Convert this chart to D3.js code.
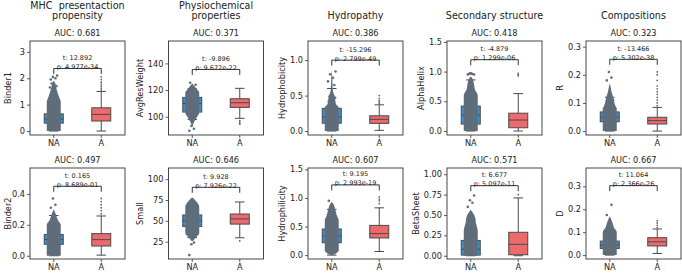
<!DOCTYPE html>
<html>
<head>
<meta charset="utf-8">
<script src="https://cdn.jsdelivr.net/npm/d3@7"></script>
<style>
    body { margin: 0; background: #fff; }
    svg { font-family: "DejaVu Sans", sans-serif; }
    .tick line { stroke: #333; stroke-width: 0.8; }
    .tick text { fill: #222; font-size: 8.2px; }
    .title { white-space: pre; }
</style>
</head>
<body>
<div id="chart"></div>
<script>
// column titles (top row only)
const colTitles = [["MHC  presentaction", "propensity"], ["Physiochemical", "properties"], ["Hydropathy"], ["Secondary structure"], ["Compositions"]];
const classes = ["NA", "A"];
const features = ["Binder1", "AvgResWeight", "Hydrophobicity", "AlphaHelix", "R",
                  "Binder2", "Small", "Hydrophilicity", "BetaSheet", "D"];
const aucValues = [0.681, 0.371, 0.386, 0.418, 0.323, 0.497, 0.646, 0.607, 0.571, 0.667];
const tStats = ["12.892", "-9.896", "-15.296", "-4.879", "-13.466", "0.165", "9.928", "9.195", "6.677", "11.064"];
const pValues = ["4.977e-34", "9.672e-22", "2.799e-49", "1.299e-06", "5.302e-38",
                 "8.689e-01", "7.926e-22", "2.993e-19", "5.097e-11", "2.366e-26"];

// y ranges and ticks
const yDomains = [[-0.15, 3.41], [86.3, 156.8], [-0.056, 1.27], [-0.067, 1.515], [-0.014, 0.32],
                  [-0.021, 0.567], [4.3, 113.3], [-0.068, 1.524], [-0.04, 1.077], [-0.017, 0.38]];
const yTicks = [[0, 1, 2, 3], [100, 120, 140], [0, 0.5, 1], [0, 0.5, 1, 1.5], [0, 0.1, 0.2, 0.3],
                [0, 0.2, 0.4], [25, 50, 75, 100], [0, 0.5, 1, 1.5], [0, 0.25, 0.5, 0.75, 1], [0, 0.1, 0.2, 0.3]];
const yTickLabels = [["0", "1", "2", "3"], ["100", "120", "140"], ["0.0", "0.5", "1.0"], ["0.0", "0.5", "1.0", "1.5"],
                     ["0.0", "0.1", "0.2", "0.3"], ["0.0", "0.2", "0.4"], ["25", "50", "75", "100"],
                     ["0.0", "0.5", "1.0", "1.5"], ["0.00", "0.25", "0.50", "0.75", "1.00"], ["0.0", "0.1", "0.2", "0.3"]];

// box stats: [whisker low, q1, median, q3, whisker high]
const naBoxes = [[0, 0.3, 0.45, 0.65, 1.2], [98, 103.5, 110, 114.5, 121], [0, 0.11, 0.2, 0.32, 0.6],
                 [0, 0.117, 0.27, 0.42, 0.86], [0, 0.033, 0.05, 0.068, 0.12], [0, 0.074, 0.105, 0.137, 0.26],
                 [30, 43.3, 50, 57, 70], [0, 0.217, 0.33, 0.457, 0.8], [0, 0.008, 0.08, 0.188, 0.45],
                 [0, 0.029, 0.044, 0.061, 0.11]];
const aBoxes = [[0, 0.38, 0.63, 0.88, 1.5], [98.8, 107, 110.5, 113.5, 121.3], [0.01, 0.108, 0.165, 0.215, 0.37],
                [0, 0.055, 0.185, 0.3, 0.63], [0, 0.025, 0.037, 0.049, 0.084], [0.004, 0.063, 0.104, 0.143, 0.257],
                [29.7, 46.1, 52.3, 58.2, 72.6], [0.063, 0.3, 0.377, 0.52, 0.827], [0, 0.012, 0.14, 0.288, 0.71],
                [0.007, 0.04, 0.058, 0.076, 0.114]];
// fliers of class A
const aFliers = [[1.55, 1.62, 1.7, 1.78, 1.85, 1.95, 2.05], [97, 96, 95, 94.5], [0.39, 0.41, 0.43, 0.46, 0.5],
                 [0.93, 0.95, 0.97], [0.09, 0.1, 0.11, 0.12, 0.13, 0.14, 0.15, 0.16, 0.18, 0.2, 0.21],
                 [0.27, 0.29, 0.31, 0.33, 0.35, 0.37], [26], [0.9, 0.95, 0.98, 1.02], [0.75], [0.12, 0.13, 0.14, 0.15]];

// outline of the dense NA strip: [value, relative spread]
const naStripShape = [
    [[0, 1], [1.1, 1], [1.3, 0.75], [1.5, 0.5], [1.7, 0.3], [1.85, 0.15], [1.9, 0]],
    [[92, 0], [96, 0.25], [100, 0.7], [103, 1], [118, 1], [121, 0.6], [123, 0.3], [125, 0]],
    [[0, 1], [0.33, 1], [0.38, 0.6], [0.5, 0.4], [0.55, 0.2], [0.62, 0.12], [0.8, 0.05], [0.85, 0]],
    [[0, 1], [0.6, 1], [0.7, 0.6], [0.8, 0.45], [0.88, 0.25], [0.92, 0]],
    [[0, 1], [0.08, 1], [0.09, 0.8], [0.12, 0.5], [0.14, 0.25], [0.16, 0.1], [0.17, 0]],
    [[0, 1], [0.2, 1], [0.23, 0.6], [0.26, 0.35], [0.29, 0.1], [0.3, 0]],
    [[26, 0.1], [30, 0.5], [35, 1], [67, 1], [72, 0.7], [76, 0.3], [78, 0]],
    [[0, 0.2], [0.03, 0.6], [0.08, 1], [0.6, 1], [0.7, 0.7], [0.8, 0.5], [0.9, 0.2], [0.93, 0]],
    [[0, 1], [0.3, 1], [0.4, 0.75], [0.5, 0.5], [0.54, 0.2], [0.56, 0]],
    [[0, 1], [0.1, 1], [0.12, 0.6], [0.14, 0.4], [0.16, 0.15], [0.17, 0]]
];
// scattered NA points outside the dense part
const naStripPoints = [[1.95, 2.0, 2.05, 2.1, 1.8, 1.75, 1.7, 1.65], [89.5, 91, 93, 124, 125.5],
                       [0.42, 0.44, 0.46, 0.47, 0.49, 0.45, 0.65, 0.7, 0.75, 0.8, 0.84],
                       [0.95, 0.96, 0.97, 0.95, 0.96, 0.97], [0.18, 0.19, 0.21, 0.11, 0.12], [0.31, 0.33, 0.37],
                       [9, 24, 22], [0.95], [0.6, 0.65, 0.68, 0.74], [0.175, 0.22]];
// top of the significance bracket
const bracketTop = [2.37, 135.5, 1.0, 1.2, 0.255, 0.449, 90.2, 1.228, 0.86, 0.303];

const W = 682, H = 273;
const panelW = 95;
const panelH = [94, 91];
const colLeft = [30, 168.5, 308, 447, 586];
const rowTop = [41, 168];
const boxColors = {"NA": "#3d8ec8", "A": "#ec696c"};
const lineColor = "#4a4a4a";
const stripColor = "#5f6d7b";
const jitter = [-0.7, 0.4, -0.2, 0.8, -0.5, 0.1, 0.6, -0.9, 0.3, -0.4, 0.9];

const svg = d3.select("#chart").append("svg")
    .attr("width", W)
    .attr("height", H);

features.forEach((feat, i) => {
    const row = Math.floor(i / 5), col = i % 5;
    const h = panelH[row];
    const g = svg.append("g")
        .attr("transform", "translate(" + colLeft[col] + "," + rowTop[row] + ")");

    const x = d3.scaleBand().domain(classes).range([0, panelW]);
    const y = d3.scaleLinear().domain(yDomains[i]).range([h, 0]);
    const cx = c => x(c) + x.bandwidth() / 2;
    const boxW = x.bandwidth() * 0.4;

    // boxes
    [["NA", naBoxes[i]], ["A", aBoxes[i]]].forEach(([c, s]) => {
        const bg = g.append("g");
        bg.append("line")
            .attr("x1", cx(c)).attr("x2", cx(c))
            .attr("y1", y(s[0])).attr("y2", y(s[1]))
            .attr("stroke", lineColor).attr("stroke-width", 1);
        bg.append("line")
            .attr("x1", cx(c)).attr("x2", cx(c))
            .attr("y1", y(s[3])).attr("y2", y(s[4]))
            .attr("stroke", lineColor).attr("stroke-width", 1);
        [s[0], s[4]].forEach(v => {
            bg.append("line")
                .attr("x1", cx(c) - boxW / 4).attr("x2", cx(c) + boxW / 4)
                .attr("y1", y(v)).attr("y2", y(v))
                .attr("stroke", lineColor).attr("stroke-width", 1);
        });
        bg.append("rect")
            .attr("x", cx(c) - boxW / 2)
            .attr("y", y(s[3]))
            .attr("width", boxW)
            .attr("height", y(s[1]) - y(s[3]))
            .attr("fill", boxColors[c])
            .attr("stroke", lineColor)
            .attr("stroke-width", 1);
        bg.append("line")
            .attr("x1", cx(c) - boxW / 2).attr("x2", cx(c) + boxW / 2)
            .attr("y1", y(s[2])).attr("y2", y(s[2]))
            .attr("stroke", lineColor).attr("stroke-width", 1);
    });

    // fliers for A
    g.selectAll(".flier")
        .data(aFliers[i])
        .enter().append("circle")
        .attr("class", "flier")
        .attr("cx", cx("A"))
        .attr("cy", d => y(d))
        .attr("r", 0.9)
        .attr("fill", "#666");

    // NA strip: dense part + scattered points
    const spread = 7;
    g.append("path")
        .datum(naStripShape[i])
        .attr("fill", stripColor)
        .attr("d", d3.area()
            .curve(d3.curveMonotoneY)
            .y(d => y(d[0]))
            .x0(d => cx("NA") - d[1] * spread)
            .x1(d => cx("NA") + d[1] * spread));

    g.selectAll(".pt")
        .data(naStripPoints[i])
        .enter().append("circle")
        .attr("class", "pt")
        .attr("cx", (d, k) => cx("NA") + jitter[k % jitter.length] * spread * 0.6)
        .attr("cy", d => y(d))
        .attr("r", 1.3)
        .attr("fill", stripColor);

    // frame
    g.append("rect")
        .attr("width", panelW)
        .attr("height", h)
        .attr("fill", "none")
        .attr("stroke", "#333")
        .attr("stroke-width", 0.9);

    // axes
    const yAxis = g.append("g")
        .call(d3.axisLeft(y).tickValues(yTicks[i]).tickSize(3).tickPadding(2)
            .tickFormat((d, k) => yTickLabels[i][k]));
    yAxis.select(".domain").remove();
    yAxis.selectAll("text").attr("font-family", "DejaVu Sans");

    const xAxis = g.append("g")
        .attr("transform", "translate(0," + h + ")")
        .call(d3.axisBottom(x).tickSize(3).tickPadding(2));
    xAxis.select(".domain").remove();
    xAxis.selectAll("text").attr("font-family", "DejaVu Sans");

    // y label, placed left of widest tick label (first column aligned to the page edge)
    let tickW = 0;
    yAxis.selectAll("text").each(function() { tickW = Math.max(tickW, this.getBBox().width); });
    const labelX = col === 0 ? 10.5 - colLeft[0] : -tickW - 9.5;
    g.append("text")
        .attr("transform", "translate(" + labelX + "," + (h / 2) + ") rotate(-90)")
        .attr("text-anchor", "middle")
        .attr("font-size", 8.2)
        .attr("fill", "#222")
        .text(feat);

    // AUC subtitle
    g.append("text")
        .attr("x", panelW / 2)
        .attr("y", -5)
        .attr("text-anchor", "middle")
        .attr("font-size", 8.2)
        .attr("fill", "#222")
        .text("AUC: " + aucValues[i].toFixed(3));

    // significance bracket
    const by = y(bracketTop[i]);
    g.append("path")
        .attr("d", "M" + cx("NA") + "," + (by + 5.5) + "V" + by + "H" + cx("A") + "V" + (by + 5.5))
        .attr("fill", "none")
        .attr("stroke", "#000")
        .attr("stroke-width", 0.8);
    g.append("text")
        .attr("x", (cx("NA") + cx("A")) / 2)
        .attr("y", by - 8.5)
        .attr("text-anchor", "middle")
        .attr("font-size", 6.5)
        .attr("fill", "#222")
        .text("t: " + tStats[i]);
    g.append("text")
        .attr("x", (cx("NA") + cx("A")) / 2)
        .attr("y", by + 0.5)
        .attr("text-anchor", "middle")
        .attr("font-size", 6.5)
        .attr("fill", "#222")
        .text("p: " + pValues[i]);

    // column title
    if (row === 0) {
        const lines = colTitles[col];
        lines.forEach((t, k) => {
            g.append("text")
                .attr("class", "title")
                .attr("x", panelW / 2)
                .attr("y", -22 - (lines.length - 1 - k) * 10.5)
                .attr("text-anchor", "middle")
                .attr("font-size", 9.6)
                .attr("fill", "#222")
                .text(t);
        });
    }
});
</script>
</body>
</html>
